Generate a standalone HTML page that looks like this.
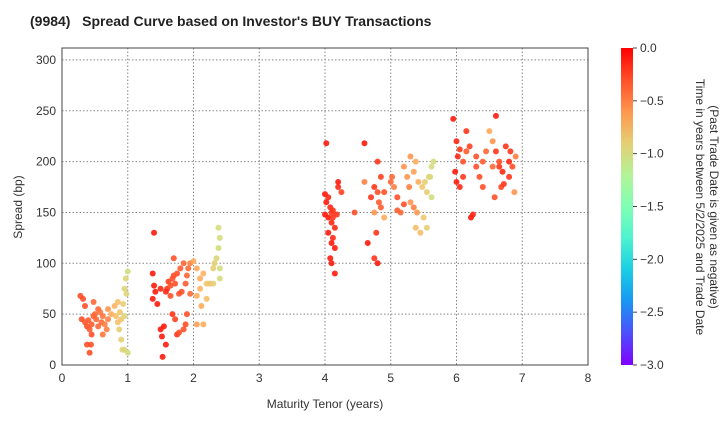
<!DOCTYPE html>
<html><head><meta charset="utf-8"><style>
body{margin:0;background:#fff;font-family:"Liberation Sans",Arial,sans-serif}
svg text{font-family:"Liberation Sans",Arial,sans-serif}
</style></head><body>
<svg id="c" width="720" height="420" viewBox="0 0 720 420">
<text x="30" y="26" font-size="14" font-weight="bold" fill="#222">(9984)&#160;&#160; Spread Curve based on Investor's BUY Transactions</text>
<g id="grid"></g><g id="pts"></g><g id="axes"></g>
<defs><linearGradient id="cg" x1="0" y1="1" x2="0" y2="0"></linearGradient></defs>
<rect x="621" y="48" width="12" height="317" fill="url(#cg)"/>
<g id="cbax"></g>
<text transform="translate(696,207) rotate(90)" text-anchor="middle" font-size="12" fill="#333">Time in years between 5/2/2025 and Trade Date</text>
<text transform="translate(710,207) rotate(90)" text-anchor="middle" font-size="12" fill="#333">(Past Trade Date is given as negative)</text>
<text transform="translate(22,207) rotate(-90)" text-anchor="middle" font-size="12" fill="#333">Spread (bp)</text>
<text x="325" y="408" text-anchor="middle" font-size="12" fill="#333">Maturity Tenor (years)</text>
</svg>
<script>
const xTicks=[0,1,2,3,4,5,6,7,8];
const yTicks=[0,50,100,150,200,250,300];
const cbTicks=[0,-0.5,-1,-1.5,-2,-2.5,-3];
const cbLabels=["0.0","−0.5","−1.0","−1.5","−2.0","−2.5","−3.0"];
const tenor=[0.28,0.32,0.35,0.3,0.35,0.38,0.4,0.42,0.45,0.48,0.5,0.52,0.55,0.45,0.48,0.38,0.44,0.42,0.6,0.62,0.65,0.68,0.7,0.62,0.75,0.8,0.82,0.85,0.88,0.9,0.85,0.93,0.95,0.97,1.0,0.98,0.95,0.9,0.92,0.95,1.0,0.87,0.55,0.58,0.7,
1.4,1.38,1.4,1.42,1.45,1.38,1.5,1.5,1.52,1.55,1.53,1.58,1.6,1.62,1.65,1.68,1.7,1.72,1.75,1.78,1.8,1.82,1.85,1.88,1.9,1.92,1.95,1.7,1.65,1.68,1.72,1.75,1.78,1.85,1.88,1.9,1.95,1.58,2.0,2.05,2.1,2.15,2.1,2.05,2.12,2.2,2.25,2.3,2.32,2.35,2.38,2.4,2.38,2.4,2.4,2.2,2.3,2.15,2.05,
4.02,4.0,4.05,4.02,4.08,4.1,4.05,4.0,4.12,4.1,4.15,4.05,4.1,4.12,4.15,4.2,4.2,4.08,4.1,4.15,4.12,4.18,4.25,4.45,4.6,4.6,4.65,4.75,4.7,4.8,4.85,4.8,4.82,4.75,4.9,4.8,4.75,4.78,4.85,4.9,
5.0,5.05,5.02,5.1,5.1,5.15,5.2,5.2,5.25,5.28,5.3,5.35,5.38,5.35,5.4,5.3,5.42,5.45,5.5,5.48,5.52,5.55,5.6,5.62,5.65,5.62,5.58,5.38,5.55,
5.95,6.0,6.05,6.02,5.98,6.0,6.05,6.1,6.15,6.1,6.15,6.2,6.25,6.22,6.3,6.3,6.35,6.4,6.45,6.5,6.55,6.6,6.6,6.65,6.7,6.75,6.8,6.82,6.85,6.9,6.88,6.72,6.68,6.58,6.65,6.4,6.8,6.55];
const spread=[68,65,58,45,42,38,44,35,40,48,50,45,55,30,62,20,20,12,42,48,40,35,55,30,50,58,48,62,52,45,42,60,75,85,92,70,48,25,15,15,12,35,38,52,45,
130,90,78,72,60,65,75,35,28,38,8,20,75,82,78,85,88,80,90,70,95,72,100,80,88,95,100,105,68,50,45,30,32,35,40,50,70,72,102,95,85,90,75,68,58,65,80,95,100,105,115,125,135,85,95,80,80,40,40,
218,168,165,160,155,150,145,148,145,140,135,130,120,125,115,175,180,105,100,90,152,148,170,150,218,180,120,175,165,200,185,170,160,150,145,100,105,130,155,170,
180,175,185,165,152,150,158,195,185,175,160,190,200,155,150,205,180,130,145,175,180,170,185,195,200,165,185,135,135,
242,220,212,205,190,180,175,200,210,185,230,215,148,145,205,195,185,200,210,230,220,245,210,195,190,215,200,210,195,205,170,178,175,165,200,175,185,195];
const age=[-0.3,-0.3,-0.3,-0.3,-0.35,-0.3,-0.35,-0.35,-0.35,-0.35,-0.4,-0.4,-0.4,-0.3,-0.4,-0.3,-0.3,-0.3,-0.4,-0.45,-0.5,-0.5,-0.6,-0.45,-0.7,-0.75,-0.8,-0.8,-0.85,-0.85,-0.8,-0.9,-0.95,-0.95,-1.0,-0.95,-0.95,-0.9,-0.95,-0.95,-1.0,-0.9,-0.4,-0.45,-0.5,
-0.1,-0.1,-0.1,-0.1,-0.1,-0.1,-0.15,-0.1,-0.1,-0.1,-0.1,-0.12,-0.2,-0.25,-0.3,-0.3,-0.3,-0.3,-0.3,-0.3,-0.35,-0.3,-0.4,-0.35,-0.4,-0.4,-0.5,-0.3,-0.3,-0.2,-0.25,-0.2,-0.3,-0.3,-0.3,-0.3,-0.4,-0.15,-0.7,-0.7,-0.7,-0.75,-0.75,-0.7,-0.7,-0.8,-0.8,-0.9,-0.9,-0.95,-1.0,-1.0,-1.0,-1.0,-1.0,-0.85,-0.9,-0.7,-0.65,
-0.1,-0.1,-0.15,-0.1,-0.15,-0.2,-0.1,-0.1,-0.2,-0.15,-0.15,-0.1,-0.1,-0.15,-0.1,-0.15,-0.1,-0.1,-0.1,-0.1,-0.2,-0.2,-0.25,-0.3,-0.1,-0.5,-0.1,-0.2,-0.2,-0.2,-0.25,-0.3,-0.35,-0.6,-0.7,-0.1,-0.2,-0.2,-0.35,-0.3,
-0.4,-0.5,-0.4,-0.3,-0.35,-0.4,-0.3,-0.6,-0.6,-0.5,-0.6,-0.65,-0.7,-0.5,-0.6,-0.6,-0.7,-0.8,-0.85,-0.85,-0.9,-0.9,-0.95,-1.0,-1.0,-1.0,-0.95,-0.8,-0.9,
-0.1,-0.15,-0.2,-0.15,-0.1,-0.1,-0.15,-0.3,-0.35,-0.2,-0.2,-0.25,-0.15,-0.1,-0.3,-0.3,-0.3,-0.35,-0.4,-0.7,-0.6,-0.1,-0.2,-0.2,-0.15,-0.2,-0.15,-0.2,-0.3,-0.5,-0.6,-0.2,-0.25,-0.3,-0.3,-0.3,-0.2,-0.4];
const NS="http://www.w3.org/2000/svg";
const L=62,R=588,T=48,B=365;
const sx=v=>L+v*(R-L)/8, sy=v=>B-v*1.017;
function cmap(v){const t=Math.max(0,Math.min(1,(v+3)/3));const c=x=>Math.round(255*Math.max(0,Math.min(1,x)));
return `rgb(${c(Math.abs(2*t-0.5))},${c(Math.sin(Math.PI*t))},${c(Math.cos(Math.PI/2*t))})`;}
function mk(tag,at,par){const e=document.createElementNS(NS,tag);for(const k in at)e.setAttribute(k,at[k]);par.appendChild(e);return e;}
const g=document.getElementById('grid'),ax=document.getElementById('axes'),pg=document.getElementById('pts');
xTicks.forEach(v=>{const l=mk('line',{x1:sx(v),x2:sx(v),y1:T,y2:B,stroke:'#888','stroke-dasharray':'1.5,2','stroke-width':1},g);

const t=mk('text',{x:sx(v),y:B+17,'text-anchor':'middle','font-size':12,fill:'#333'},ax);t.textContent=v;
});
yTicks.forEach(v=>{const l=mk('line',{x1:L,x2:R,y1:sy(v),y2:sy(v),stroke:'#888','stroke-dasharray':'1.5,2','stroke-width':1},g);

const t=mk('text',{x:L-6,y:sy(v)+4,'text-anchor':'end','font-size':12,fill:'#333'},ax);t.textContent=v;
});
const fr=mk('rect',{x:L,y:T,width:R-L,height:B-T,fill:'none',stroke:'#444','stroke-width':1},ax);

tenor.forEach((x,i)=>{const c=mk('circle',{cx:sx(x),cy:sy(spread[i]),r:3,fill:cmap(age[i]),'fill-opacity':0.9},pg);
});
const gr=document.getElementById('cg');
for(let i=0;i<=10;i++){const t=i/10;mk('stop',{offset:t,'stop-color':cmap(-3+3*t)},gr);}
const cb=document.getElementById('cbax');
cbTicks.forEach((v,i)=>{const y=48+(-v)*317/3;mk('line',{x1:633,x2:637,y1:y,y2:y,stroke:'#444'},cb);
const t=mk('text',{x:640,y:y+4,'font-size':12,fill:'#333'},cb);t.textContent=cbLabels[i];
});
</script>
</body></html>
